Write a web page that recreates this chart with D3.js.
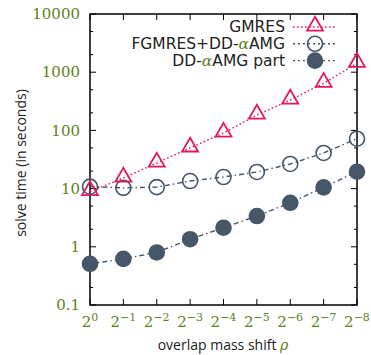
<!DOCTYPE html>
<html><head><meta charset="UTF-8"><title>solve time</title>
<style>
  body, html { margin: 0; padding: 0; background: #fff; }
  svg { display: block; }
  .lbl { font-family: 'Open Sans', 'DejaVu Sans', sans-serif; fill: #222; }
  .leg { font-family: 'DejaVu Sans', sans-serif; fill: #222; }
  .num { font-family: 'DejaVu Serif', 'Liberation Serif', serif; fill: #5f7f22; }
</style>
</head>
<body>
<div id="chart"></div>
<script src="https://d3js.org/d3.v7.min.js"></script>
<script>
const exps = [0, -1, -2, -3, -4, -5, -6, -7, -8];
const gmres = [8.9, 15.2, 27.5, 50, 90, 184, 333, 644, 1420];
const fgmres = [10.8, 10.3, 10.6, 13.5, 15.8, 19.3, 26.5, 41, 72];
const ddPart = [0.51, 0.62, 0.80, 1.35, 2.13, 3.38, 5.7, 10.5, 19.5];
const yTicks = [0.1, 1, 10, 100, 1000, 10000];
const yTickLabels = ["0.1", "1", "10", "100", "1000", "10000"];

const width = 371, height = 355;
const m = { left: 90, right: 14, top: 14, bottom: 50 };
const pink = "#e5185c", slate = "#46576a", green = "#5f7f22";

const svg = d3.select("#chart").append("svg")
  .attr("width", width).attr("height", height);

const x = d3.scalePoint().domain(exps).range([m.left, width - m.right]);
const y = d3.scaleLog().domain([0.1, 10000]).range([height - m.bottom, m.top]);

// minor tick values at 2x and 5x of each decade
const minor = [];
yTicks.slice(0, -1).forEach(d => { minor.push(d * 2, d * 5); });

const x0 = m.left, x1 = width - m.right, y0 = height - m.bottom, y1 = m.top;
const g = svg.append("g");

// ticks (inward, mirrored)
yTicks.forEach(t => {
  g.append("line").attr("x1", x0).attr("x2", x0 + 6).attr("y1", y(t)).attr("y2", y(t)).attr("stroke", "#000");
  g.append("line").attr("x1", x1).attr("x2", x1 - 6).attr("y1", y(t)).attr("y2", y(t)).attr("stroke", "#000");
});
minor.forEach(t => {
  g.append("line").attr("x1", x0).attr("x2", x0 + 3).attr("y1", y(t)).attr("y2", y(t)).attr("stroke", "#000");
  g.append("line").attr("x1", x1).attr("x2", x1 - 3).attr("y1", y(t)).attr("y2", y(t)).attr("stroke", "#000");
});
exps.forEach(e => {
  g.append("line").attr("x1", x(e)).attr("x2", x(e)).attr("y1", y0).attr("y2", y0 - 6).attr("stroke", "#000");
  g.append("line").attr("x1", x(e)).attr("x2", x(e)).attr("y1", y1).attr("y2", y1 + 6).attr("stroke", "#000");
});

// frame
g.append("rect").attr("x", x0).attr("y", y1).attr("width", x1 - x0).attr("height", y0 - y1)
  .attr("fill", "none").attr("stroke", "#000").attr("stroke-width", 1.5);

// tick labels
yTicks.forEach((t, i) => {
  svg.append("text").attr("class", "num").attr("x", 80).attr("y", y(t)).attr("dy", "0.35em")
    .attr("text-anchor", "end").attr("font-size", 15).text(yTickLabels[i]);
});
exps.forEach(e => {
  const t = svg.append("text").attr("class", "num").attr("x", x(e)).attr("y", 327)
    .attr("text-anchor", "middle").attr("font-size", 15);
  t.append("tspan").text("2");
  t.append("tspan").attr("dy", -6).attr("font-size", 11).text(e === 0 ? "0" : "\u2212" + (-e));
});

// axis titles
svg.append("text").attr("class", "lbl").attr("font-size", 14)
  .attr("transform", "translate(26,163) rotate(-90)")
  .attr("text-anchor", "middle").text("solve time (in seconds)");
const xt = svg.append("text").attr("class", "lbl").attr("font-size", 14)
  .attr("x", 223).attr("y", 350).attr("text-anchor", "middle");
xt.append("tspan").text("overlap mass shift ");
xt.append("tspan").attr("fill", green).attr("font-style", "italic")
  .attr("font-family", "'DejaVu Serif', serif").text("\u03c1");

const line = d3.line().x((d, i) => x(exps[i])).y(d => y(d));

const tri = d3.symbol().type(d3.symbolTriangle).size(110);

function series(vals, color, dash, marker) {
  svg.append("path").attr("d", line(vals)).attr("fill", "none").attr("stroke", color)
    .attr("stroke-width", 1.4).attr("stroke-dasharray", dash);
  vals.forEach((v, i) => marker(x(exps[i]), y(v)));
}

function drawTri(cx, cy) {
  svg.append("path").attr("d", tri()).attr("transform", `translate(${cx},${cy - 1})`)
    .attr("fill", "none").attr("stroke", pink).attr("stroke-width", 1.8);
}
function drawOpen(cx, cy) {
  svg.append("circle").attr("cx", cx).attr("cy", cy).attr("r", 7.5)
    .attr("fill", "none").attr("stroke", slate).attr("stroke-width", 1.6);
}
function drawFilled(cx, cy) {
  svg.append("circle").attr("cx", cx).attr("cy", cy).attr("r", 8.3).attr("fill", slate);
}

series(ddPart, slate, "5,3,1.5,3", drawFilled);
series(fgmres, slate, "5,3,1.5,3", drawOpen);
series(gmres, pink, "1.6,2.4", drawTri);

// legend
const legend = [
  { parts: ["GMRES"], color: pink, dash: "1.6,2.4", mk: drawTri },
  { parts: ["FGMRES+DD-", "\u03b1", "AMG"], color: slate, dash: "2,3", mk: drawOpen },
  { parts: ["DD-", "\u03b1", "AMG part"], color: slate, dash: "2,3", mk: drawFilled }
];
legend.forEach((l, i) => {
  const ly = 27 + i * 16.8;
  const t = svg.append("text").attr("class", "leg").attr("font-size", 15.5)
    .attr("x", 285).attr("y", ly).attr("dy", "0.35em").attr("text-anchor", "end");
  l.parts.forEach(p => {
    const s = t.append("tspan").text(p);
    if (p === "\u03b1") s.attr("fill", green).attr("font-style", "italic").attr("font-family", "'DejaVu Serif', serif");
  });
  svg.append("line").attr("x1", 293).attr("x2", 337).attr("y1", ly).attr("y2", ly)
    .attr("stroke", l.color).attr("stroke-width", 1.4).attr("stroke-dasharray", l.dash);
  l.mk(315, ly);
});
</script>
</body></html>
